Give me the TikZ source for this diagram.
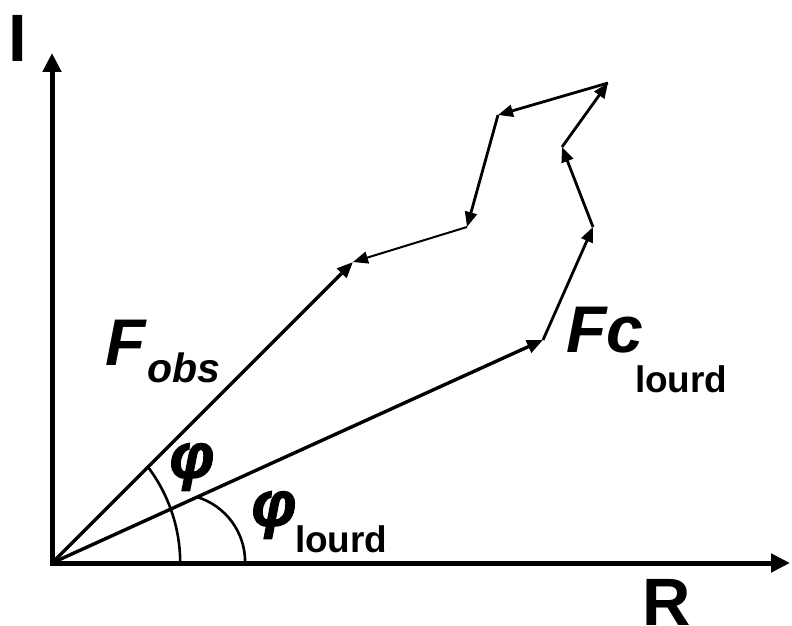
\documentclass[tikz,border=0pt]{standalone}
\usepackage{fontspec}
\setmainfont{Liberation Sans}
\newfontfamily\phifont{Liberation Sans}[BoldItalicFeatures={FakeBold=2.5}]
\usetikzlibrary{arrows.meta}
\tikzset{
  axis/.style={line width=5pt,-{Triangle[length=19pt,width=18pt]}},
  vec/.style={line width=3.4pt,-{Triangle[length=16pt,width=13pt]}},
  chain/.style={line width=2.8pt,-{Triangle[length=15pt,width=12pt]}},
  thinchain/.style={line width=2pt,-{Triangle[length=15pt,width=12pt]}},
  anglearc/.style={line width=2.6pt},
  lbl/.style={inner sep=0pt,outer sep=0pt},
  philbl/.style={inner sep=0pt,outer sep=0pt,font=\fontsize{63}{63}\selectfont\phifont\bfseries\itshape},
}
\begin{document}
\begin{tikzpicture}[x=1pt,y=1pt]
\useasboundingbox (0,0) rectangle (792,625);
\coordinate (O) at (52,62);
\coordinate (Ytop) at (52,572);
\coordinate (Xend) at (790,62);
\coordinate (A) at (353,363);
\coordinate (B) at (543,285);
\coordinate (P1) at (593,398);
\coordinate (P2) at (562,478);
\coordinate (P3) at (608,542);
\coordinate (P4) at (498,510);
\coordinate (P5) at (467,398);
% axes
\draw[axis] (52,59.5) -- (Ytop);
\draw[axis] (49.5,62) -- (Xend);
% main vectors
\draw[vec] (O) -- (A);
\draw[vec] (O) -- (B);
% chain
\draw[chain] (B) -- (P1);
\draw[chain] (P1) -- (P2);
\draw[chain] (P2) -- (P3);
\draw[chain] (P3) -- (P4);
\draw[chain] (P4) -- (P5);
\draw[thinchain] (P5) -- (A);
% angle arcs
\coordinate (arcA) at (148,158);
\coordinate (arcB) at (197,128);
\draw[anglearc] (arcA) arc[start angle=37,end angle=0,radius=160pt];
\draw[anglearc] (arcB) arc[start angle=73,end angle=0,radius=68pt];
% labels
\node[lbl,font=\fontsize{67}{67}\selectfont\bfseries] (Ilab) at (18,587) {I};
\node[lbl,font=\fontsize{67}{67}\selectfont\bfseries] (Rlab) at (667,23) {R};
\node[lbl,anchor=base west,font=\fontsize{66}{66}\selectfont\bfseries\itshape] (Fobs) at (105,260) {F};
\node[lbl,anchor=base west,font=\fontsize{41}{41}\selectfont\bfseries\itshape] (obs) at (147,243) {obs};
\node[lbl,anchor=base west,font=\fontsize{66}{66}\selectfont\bfseries\itshape] (Fc) at (566,273) {Fc};
\node[lbl,anchor=base west,font=\fontsize{37}{37}\selectfont\bfseries] (lourdA) at (635,233) {lourd};
\node[philbl] (phi) at (192,158) {φ};
\node[philbl] (phiL) at (274,110) {φ};
\node[lbl,anchor=base west,font=\fontsize{37}{37}\selectfont\bfseries] (lourdB) at (295,73) {lourd};
\end{tikzpicture}
\end{document}
